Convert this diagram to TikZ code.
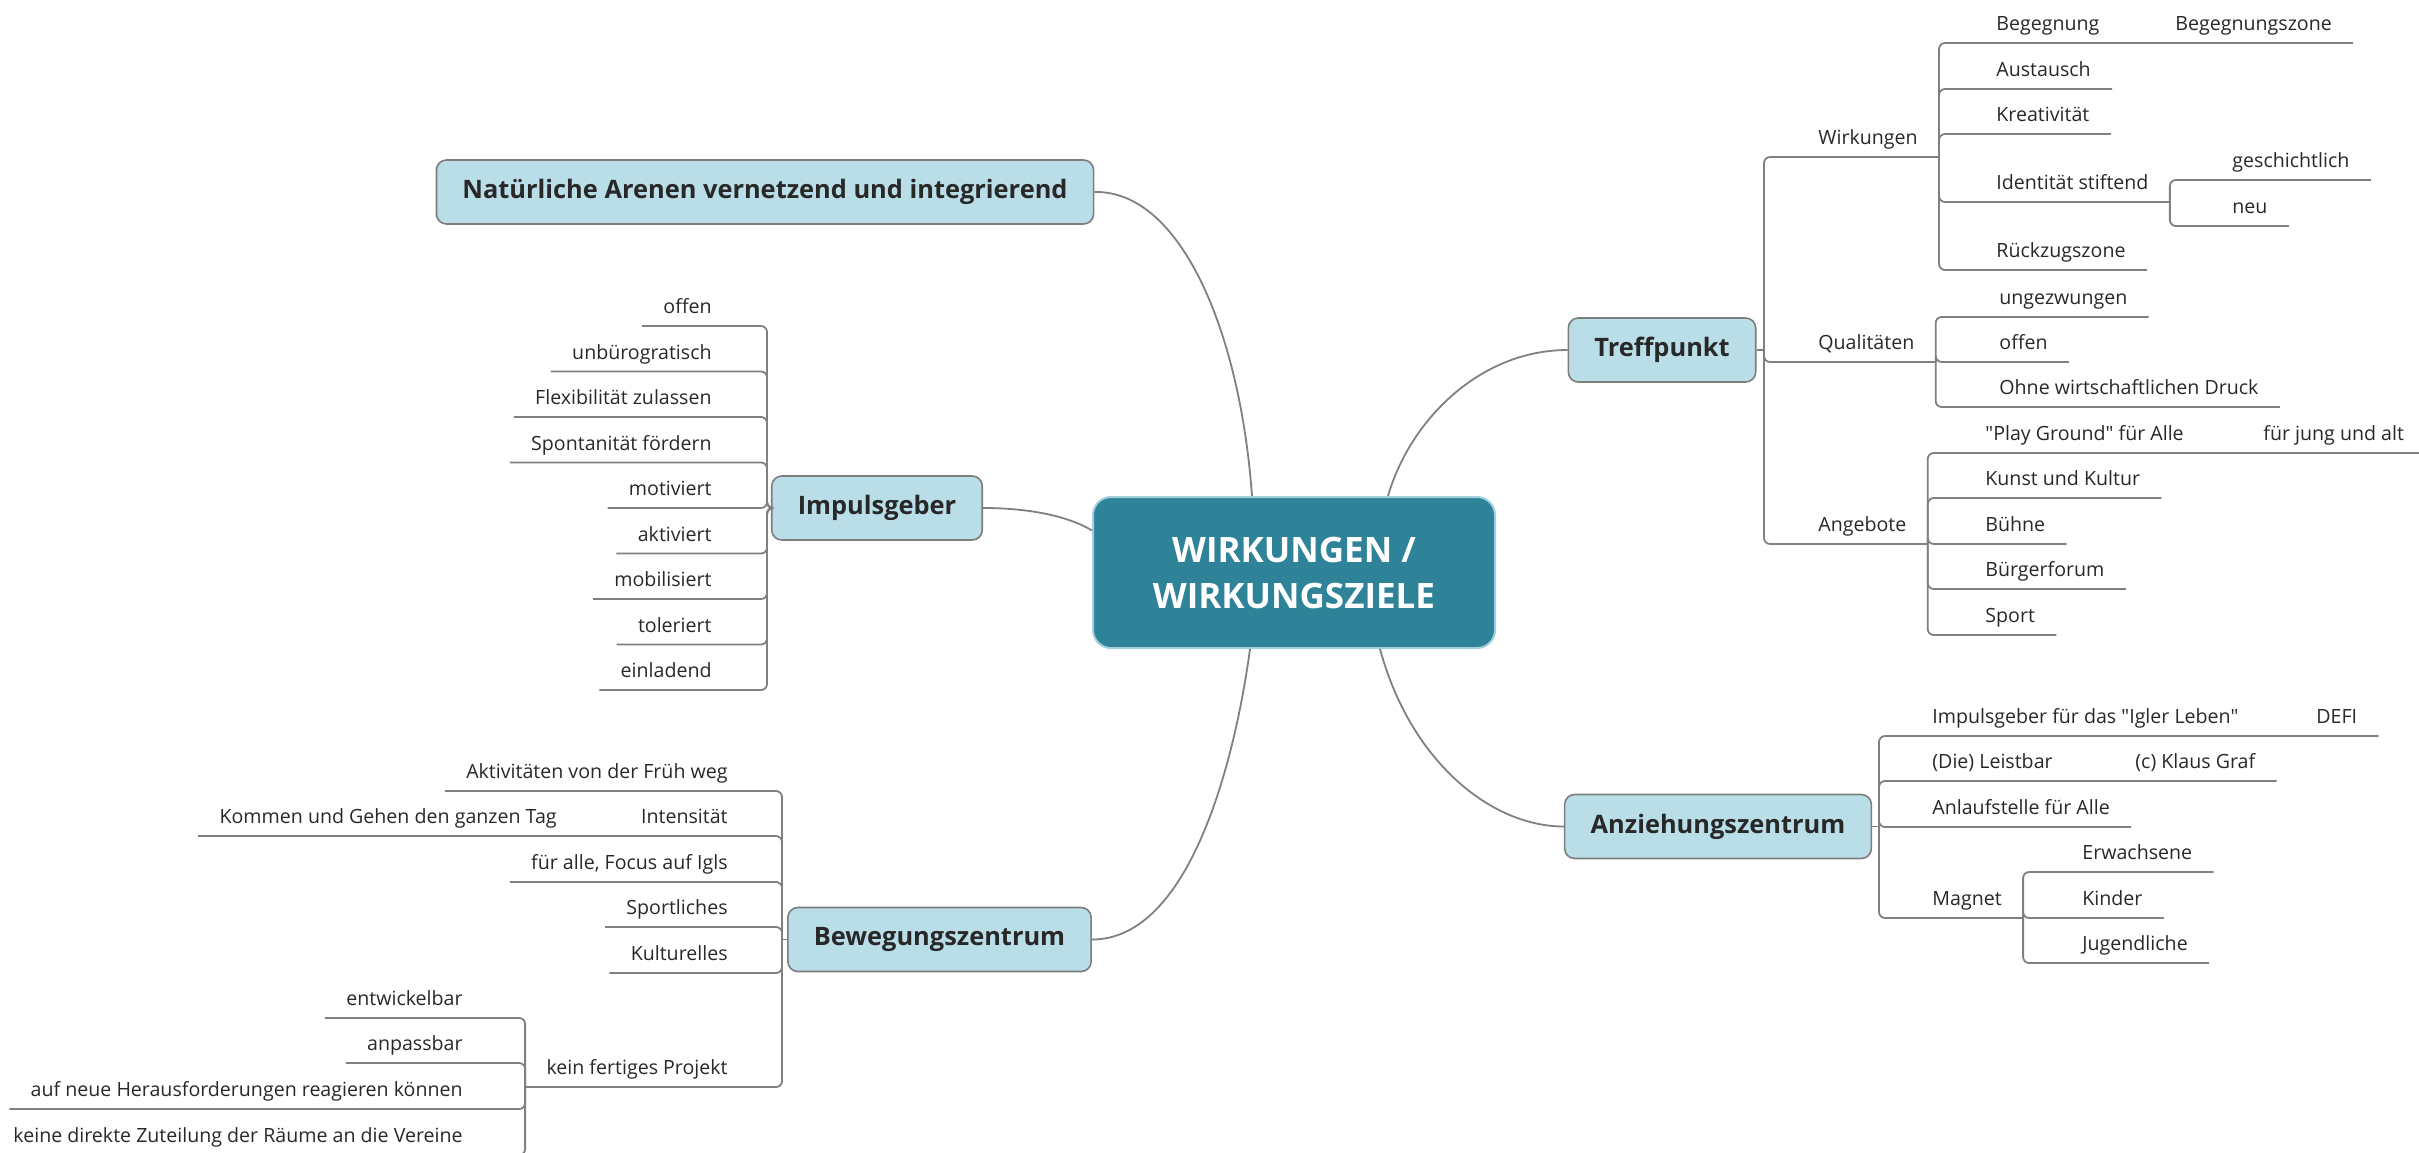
\documentclass[tikz,border=0pt]{standalone}
\usepackage{fontspec}
\setmainfont{Open Sans}[Ligatures=TeXOff]
\definecolor{lin}{RGB}{128,128,128}
\definecolor{bord}{RGB}{125,125,125}
\definecolor{topicfill}{RGB}{185,222,231}
\definecolor{rootfill}{RGB}{47,131,153}
\definecolor{rootbord}{RGB}{160,208,222}
\definecolor{txt}{RGB}{40,40,40}
\tikzset{
  branch/.style={draw=lin, line width=0.9pt, rounded corners=3pt},
  curve/.style={draw=lin, line width=0.9pt},
  leaf/.style={font=\fontsize{9.8}{12}\selectfont, text=txt, inner xsep=10.5pt, inner ysep=3.3pt,
    text height=7.5pt, text depth=2.55pt, anchor=south west},
  leafl/.style={leaf, anchor=south east},
  topic/.style={draw=bord, line width=0.8pt, fill=topicfill, rounded corners=5pt,
    font=\bfseries\fontsize{12.7}{16}\selectfont, text=txt, minimum height=32pt, inner xsep=13pt},
  root/.style={draw=rootbord, line width=1pt, fill=rootfill, rounded corners=9pt,
    font=\bfseries\fontsize{17.5}{23}\selectfont, text=white, align=center,
    minimum width=201pt, minimum height=75.5pt}
}
\begin{document}
\begin{tikzpicture}[x=0.5pt, y=-0.5pt]
  \useasboundingbox (0,0) rectangle (2419,1152);
  \node[root] (root) at (1294,572.5) {WIRKUNGEN /\\WIRKUNGSZIELE};
  \node[topic] (nat) at (765,192) {Natürliche Arenen vernetzend und integrierend};
  \node[topic] (imp) at (877,508) {Impulsgeber};
  \node[topic] (bz) at (939.5,939.5) {Bewegungszentrum};
  \node[topic] (tp) at (1662,350) {Treffpunkt};
  \node[topic] (az) at (1718,826.5) {Anziehungszentrum};

  \draw[curve] (nat.east) .. controls (1180,190) and (1240,330) .. ([xshift=-21pt]root.north);
  \draw[curve] ([xshift=47pt]root.north) .. controls (1410,420) and (1480,350) .. (tp.west);
  \draw[curve] (imp.east) .. controls (1040,508) and (1075,520) .. ([yshift=21pt]root.west);
  \draw[curve] (bz.east) .. controls (1190,939.5) and (1235,760) .. ([xshift=-22pt]root.south);
  \draw[curve] ([xshift=43pt]root.south) .. controls (1410,760) and (1490,826.5) .. (az.west);

  \node[leaf] (wirk) at (1797,157) {Wirkungen};
  \node[leaf] (begeg) at (1975,43) {Begegnung};
  \node[leaf] (begzone) at (2154,43) {Begegnungszone};
  \node[leaf] (austausch) at (1975,89) {Austausch};
  \node[leaf] (kreativ) at (1975,134) {Kreativität};
  \node[leaf] (ident) at (1975,202) {Identität stiftend};
  \node[leaf] (gesch) at (2211,180) {geschichtlich};
  \node[leaf] (neu) at (2211,226) {neu};
  \node[leaf] (rueck) at (1975,270) {Rückzugszone};
  \node[leaf] (qual) at (1797,362) {Qualitäten};
  \node[leaf] (ungez) at (1978,317) {ungezwungen};
  \node[leaf] (offenq) at (1978,362) {offen};
  \node[leaf] (ohne) at (1978,407) {Ohne wirtschaftlichen Druck};
  \node[leaf] (angeb) at (1797,544) {Angebote};
  \node[leaf] (play) at (1964,453) {"Play Ground" für Alle};
  \node[leaf] (jung) at (2242,453) {für jung und alt};
  \node[leaf] (kunst) at (1964,498) {Kunst und Kultur};
  \node[leaf] (buehne) at (1964,544) {Bühne};
  \node[leaf] (buerger) at (1964,589) {Bürgerforum};
  \node[leaf] (sport) at (1964,635) {Sport};

  \coordinate (tpT) at (1764,350);
  \draw[branch] (tp.east) -- (tpT);
  \foreach \n in {wirk,qual,angeb}
    \draw[branch] (tpT) |- (\n.south east);
  \draw[branch] (wirk.south east) |- (begeg.south east) -- (begzone.south east);
  \foreach \n in {austausch,kreativ,ident,rueck}
    \draw[branch] (wirk.south east) |- (\n.south east);
  \foreach \n in {gesch,neu}
    \draw[branch] (ident.south east) |- (\n.south east);
  \foreach \n in {ungez,offenq,ohne}
    \draw[branch] (qual.south east) |- (\n.south east);
  \draw[branch] (angeb.south east) |- (play.south east) -- (jung.south east);
  \foreach \n in {kunst,buehne,buerger,sport}
    \draw[branch] (angeb.south east) |- (\n.south east);

  \node[leaf] (impg) at (1911,736) {Impulsgeber für das "Igler Leben"};
  \node[leaf] (defi) at (2295,736) {DEFI};
  \node[leaf] (leist) at (1911,781) {(Die) Leistbar};
  \node[leaf] (graf) at (2114,781) {(c) Klaus Graf};
  \node[leaf] (anlauf) at (1911,827) {Anlaufstelle für Alle};
  \node[leaf] (magnet) at (1911,918) {Magnet};
  \node[leaf] (erw) at (2061,872) {Erwachsene};
  \node[leaf] (kinder) at (2061,918) {Kinder};
  \node[leaf] (jugend) at (2061,963) {Jugendliche};

  \coordinate (azT) at (1879,826.5);
  \draw[branch] (az.east) -- (azT);
  \draw[branch] (azT) |- (impg.south east) -- (defi.south east);
  \draw[branch] (azT) |- (leist.south east) -- (graf.south east);
  \foreach \n in {anlauf,magnet}
    \draw[branch] (azT) |- (\n.south east);
  \foreach \n in {erw,kinder,jugend}
    \draw[branch] (magnet.south east) |- (\n.south east);

  \coordinate (impT) at (767,508);
  \foreach \t [count=\i from 0] in {offen,unbürogratisch,Flexibilität zulassen,Spontanität fördern,motiviert,aktiviert,mobilisiert,toleriert,einladend}{
    \node[leafl] (imp\i) at (733,{326+45.5*\i}) {\t};
    \draw[branch] (imp.west) -- (impT) |- (imp\i.south west);
  }

  \node[leafl] (akt) at (749,791) {Aktivitäten von der Früh weg};
  \node[leafl] (intens) at (749,836) {Intensität};
  \node[leafl] (kommen) at (578,836) {Kommen und Gehen den ganzen Tag};
  \node[leafl] (fueralle) at (749,882) {für alle, Focus auf Igls};
  \node[leafl] (sportl) at (749,927) {Sportliches};
  \node[leafl] (kultur) at (749,973) {Kulturelles};
  \node[leafl] (kein) at (749,1087) {kein fertiges Projekt};
  \node[leafl] (entw) at (484,1018) {entwickelbar};
  \node[leafl] (anpass) at (484,1063) {anpassbar};
  \node[leafl] (aufneu) at (484,1109) {auf neue Herausforderungen reagieren können};
  \node[leafl] (keine) at (484,1155) {keine direkte Zuteilung der Räume an die Vereine};

  \coordinate (bzT) at (782,939.5);
  \draw[branch] (bz.west) -- (bzT);
  \draw[branch] (bzT) |- (intens.south west) -- (kommen.south west);
  \foreach \n in {akt,fueralle,sportl,kultur,kein}
    \draw[branch] (bzT) |- (\n.south west);
  \foreach \n in {entw,anpass,aufneu,keine}
    \draw[branch] (kein.south west) |- (\n.south west);
\end{tikzpicture}
\end{document}
